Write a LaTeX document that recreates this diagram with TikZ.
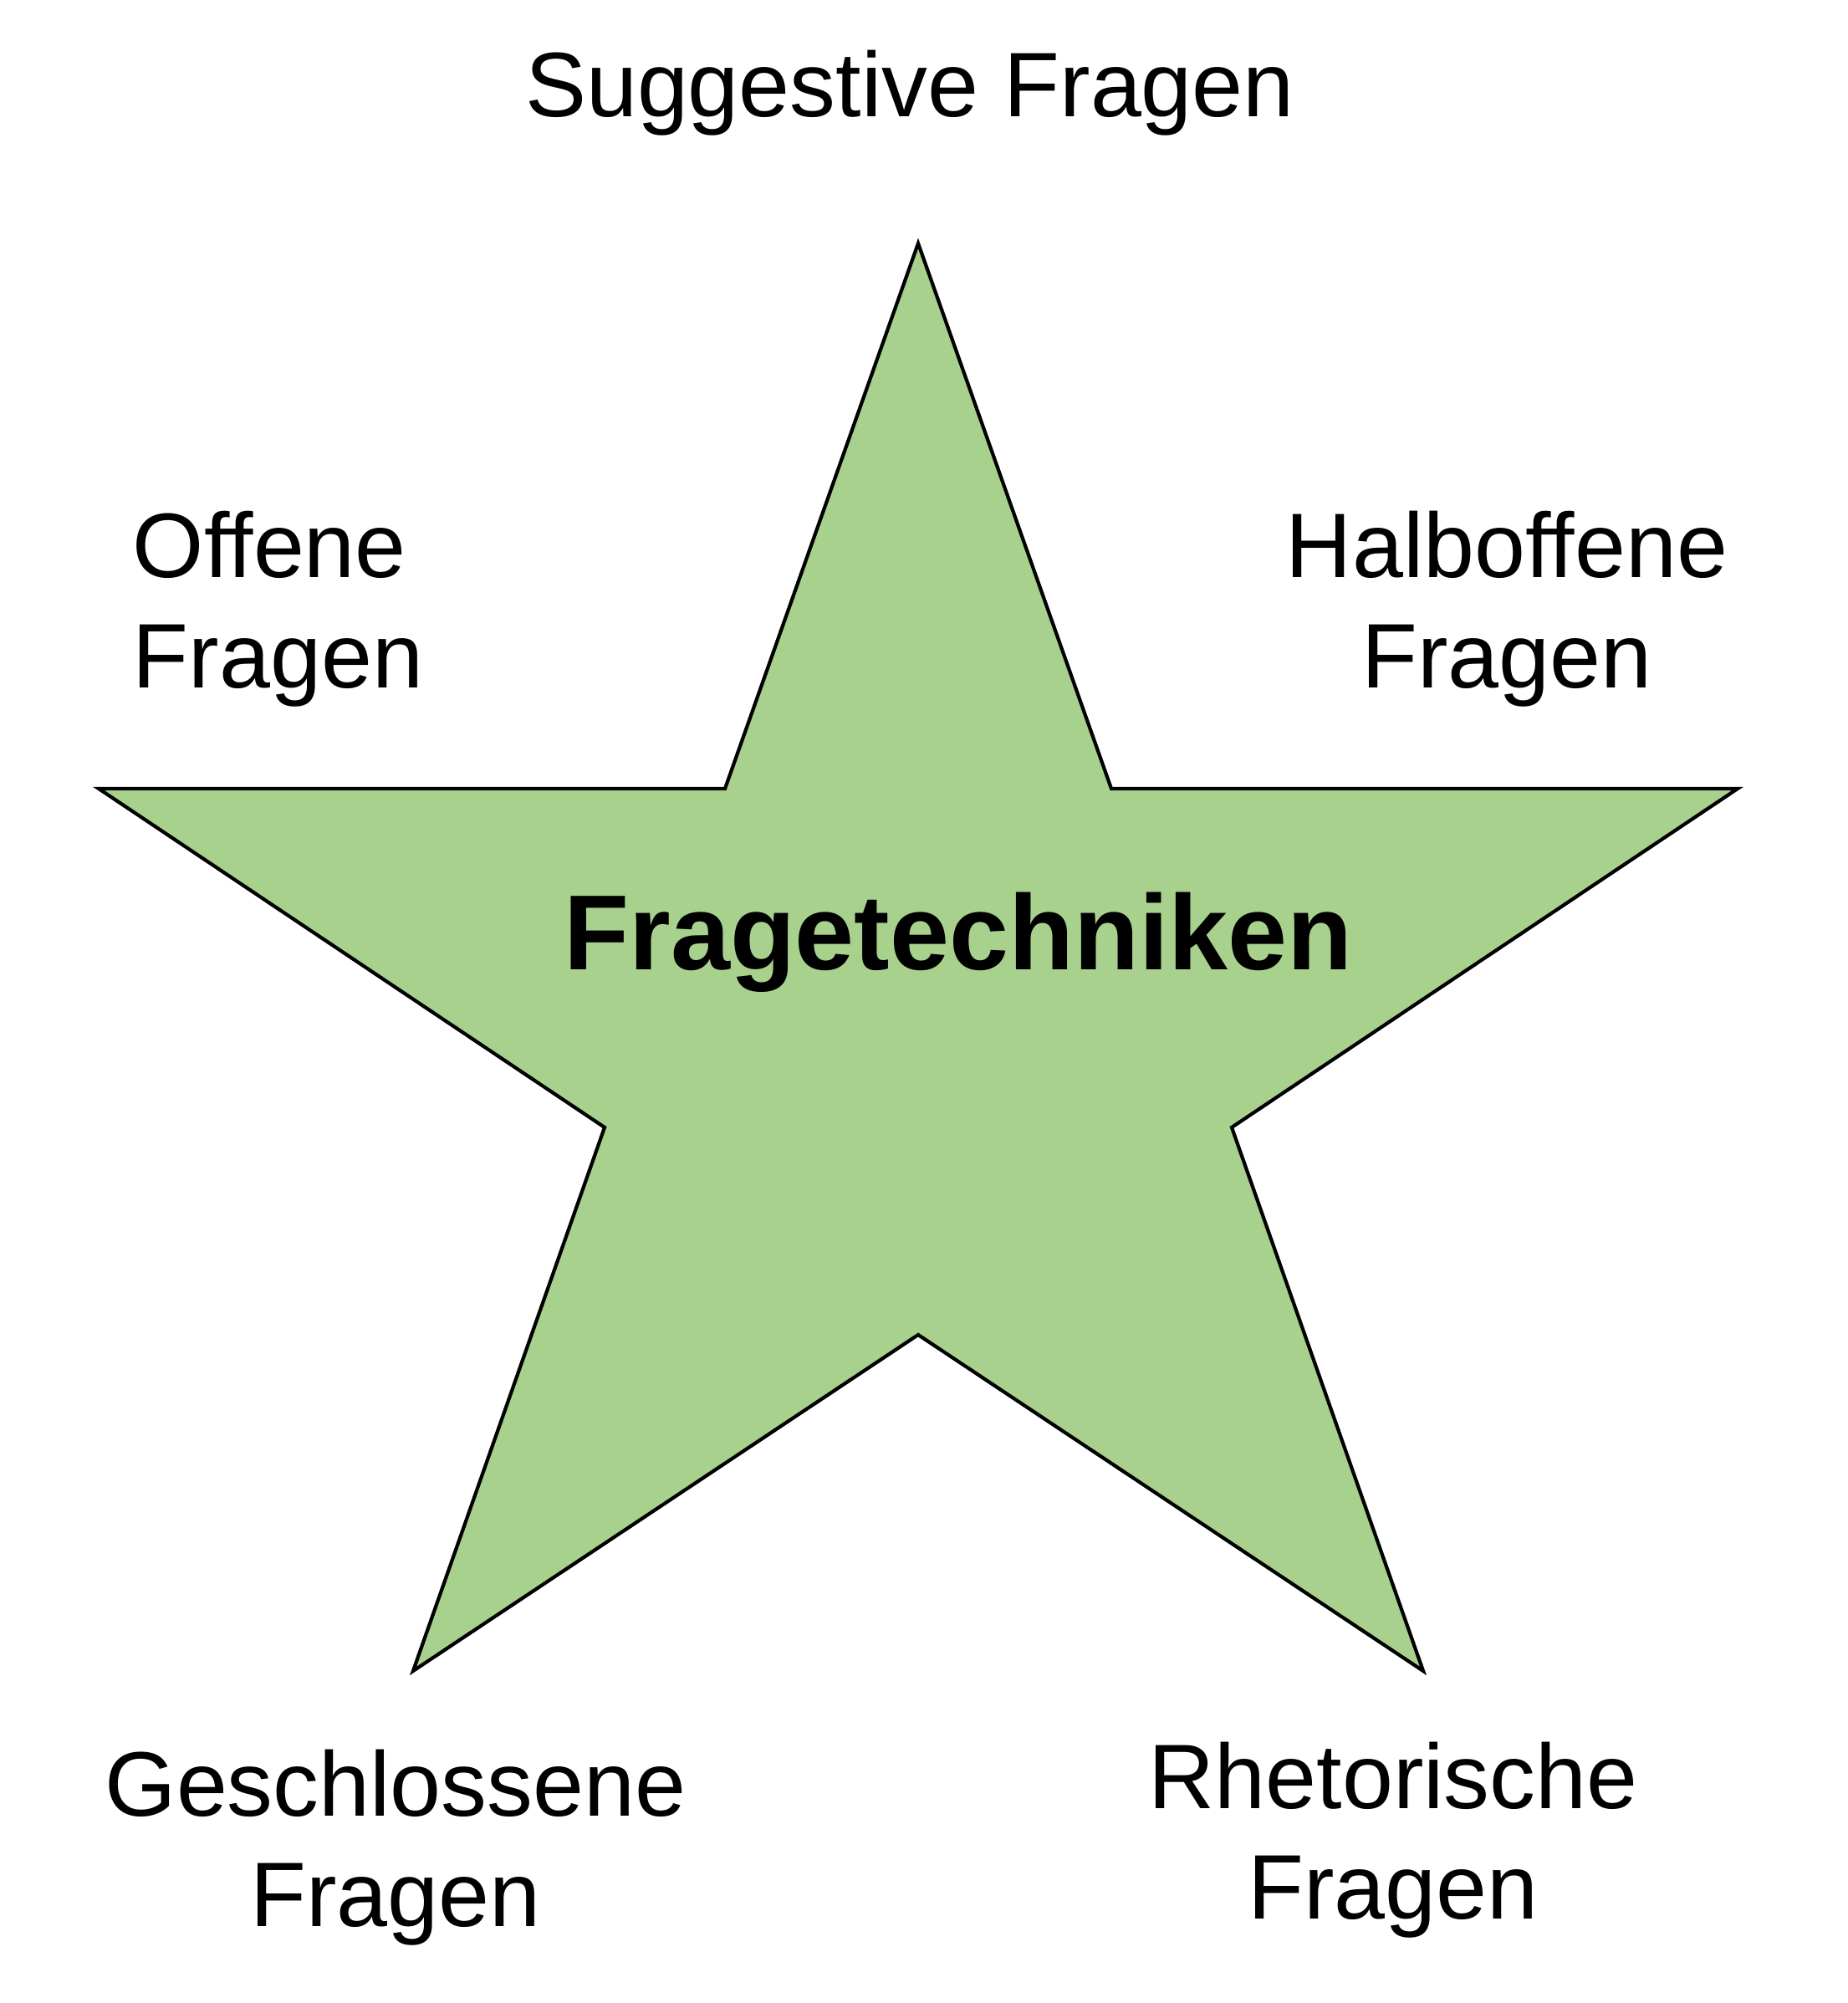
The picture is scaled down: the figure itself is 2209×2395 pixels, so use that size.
\documentclass[tikz,border=0pt]{standalone}
\usepackage{fontspec}
\setmainfont{Liberation Sans}
\definecolor{stargreen}{HTML}{A9D18E}
\begin{document}
\begin{tikzpicture}[x=0.25pt,y=-0.25pt,
  lbl/.style={inner sep=0pt,font=\fontsize{27.4}{33}\selectfont},
  title/.style={inner sep=0pt,font=\fontsize{31.9}{38}\selectfont\bfseries}]
\useasboundingbox (0,0) rectangle (2209,2395);
\draw[line width=1.05pt,fill=stargreen,line join=miter]
  (1098,291) -- (1329,943) -- (2078,943) -- (1473,1348) -- (1702,1998)
  -- (1098,1596) -- (494,1998) -- (723,1348) -- (118,943) -- (867,943) -- cycle;
\node[title,anchor=base] (center) at (1146,1159) {Fragetechniken};
\node[lbl,anchor=base] (sugg) at (1088,140) {Suggestive Fragen};
\node[lbl,anchor=base west,align=left] (offen) at (158,822) {Offene\\Fragen};
\node[lbl,anchor=base,align=center] (halb) at (1802,822) {Halboffene\\Fragen};
\node[lbl,anchor=base,align=center] (geschl) at (473,2303) {Geschlossene\\Fragen};
\node[lbl,anchor=base,align=center] (rhet) at (1666,2294) {Rhetorische\\Fragen};
\end{tikzpicture}
\end{document}
